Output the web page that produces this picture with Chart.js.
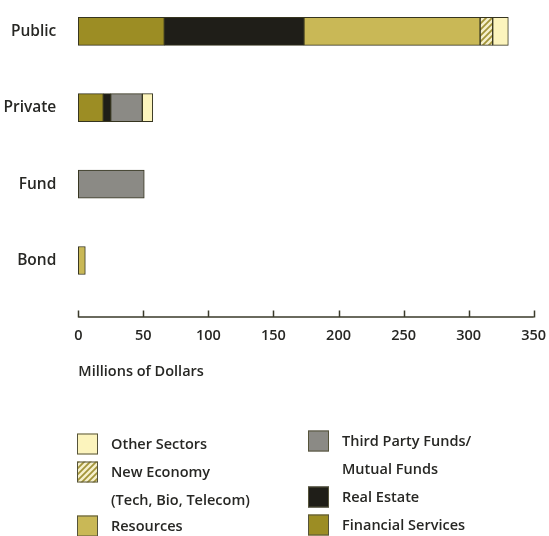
<!DOCTYPE html>
<html>
<head>
<meta charset="utf-8">
<script src="https://cdn.jsdelivr.net/npm/chart.js@4.4.1/dist/chart.umd.min.js"></script>
<style>
    html, body { margin: 0; padding: 0; background: #ffffff; }
    #wrap { width: 549px; height: 536px; }
</style>
</head>
<body>
<div id="wrap"><canvas id="chart" width="549" height="536"></canvas></div>
<script>
const categories = ["Public", "Private", "Fund", "Bond"];
const financialServices = [66.1, 19.2, null, null];
const realEstate = [107.3, 5.7, null, null];
const resources = [135.4, null, null, 5.4];
const thirdPartyFunds = [null, 24.3, 50.7, null];
const newEconomy = [9.7, null, null, null];
const otherSectors = [12.0, 8.0, null, null];
const xTicks = [0, 50, 100, 150, 200, 250, 300, 350];
const axisTitle = "Millions of Dollars";

const textColor = "#272724";
const edgeColor = "#35341f";

function hatchPattern() {
    const c = document.createElement("canvas");
    c.width = 6;
    c.height = 6;
    const g = c.getContext("2d");
    g.fillStyle = "#f6f0cc";
    g.fillRect(0, 0, 6, 6);
    g.strokeStyle = "#a3953a";
    g.lineWidth = 1.8;
    g.beginPath();
    g.moveTo(0, 6); g.lineTo(6, 0);
    g.moveTo(-3, 3); g.lineTo(3, -3);
    g.moveTo(3, 9); g.lineTo(9, 3);
    g.stroke();
    return g.createPattern(c, "repeat");
}

const colors = {
    fin: "#9c8d24",
    re: "#1f1e18",
    res: "#c9b856",
    tpf: "#8b8a85",
    ne: hatchPattern(),
    other: "#fcf4bd",
};

function ds(label, data, color) {
    return {
        label: label,
        data: data,
        backgroundColor: color,
        borderColor: edgeColor,
        borderWidth: 1,
        borderSkipped: false,
        barThickness: 28,
        clip: false,
    };
}

// axis line with ticks pointing up, like the printed chart
const axisLine = {
    id: "axisLine",
    afterDraw(chart) {
        const { ctx } = chart;
        const xs = chart.scales.x;
        const y = 317;
        ctx.save();
        ctx.strokeStyle = "#3a3a2a";
        ctx.lineWidth = 1.5;
        ctx.beginPath();
        ctx.moveTo(xs.getPixelForValue(xTicks[0]), y);
        ctx.lineTo(xs.getPixelForValue(xTicks[xTicks.length - 1]), y);
        xTicks.forEach((v) => {
            const px = Math.round(xs.getPixelForValue(v)) + 0.5;
            ctx.moveTo(px, y + 0.5);
            ctx.lineTo(px, y - 6.5);
        });
        ctx.stroke();
        ctx.restore();
    },
};

const legendBoxes = {
    id: "legendBoxes",
    afterDraw(chart) {
        const { ctx } = chart;
        const bg = (i) => chart.data.datasets[i].backgroundColor;
        const items = [
            { x: 77, y: 444, color: bg(5), lines: ["Other Sectors"] },
            { x: 77, y: 472, color: bg(4), lines: ["New Economy", "(Tech, Bio, Telecom)"] },
            { x: 77, y: 526, color: bg(2), lines: ["Resources"] },
            { x: 308, y: 441, color: bg(3), lines: ["Third Party Funds/", "Mutual Funds"] },
            { x: 308, y: 497, color: bg(1), lines: ["Real Estate"] },
            { x: 308, y: 525, color: bg(0), lines: ["Financial Services"] },
        ];
        ctx.save();
        ctx.font = "600 14.5px 'Open Sans', sans-serif";
        ctx.textBaseline = "middle";
        ctx.textAlign = "left";
        items.forEach((it) => {
            ctx.fillStyle = it.color;
            ctx.fillRect(it.x, it.y - 10.5, 21, 21);
            ctx.strokeStyle = "#55533a";
            ctx.lineWidth = 1;
            ctx.strokeRect(it.x + 0.5, it.y - 10, 20, 20);
            ctx.fillStyle = textColor;
            it.lines.forEach((t, k) => {
                ctx.fillText(t, it.x + 34, it.y + 1 + k * 28);
            });
        });
        ctx.restore();
    },
};

Chart.defaults.font.family = "'Open Sans', sans-serif";
Chart.defaults.color = textColor;

new Chart(document.getElementById("chart"), {
    type: "bar",
    data: {
        labels: categories,
        datasets: [
            ds("Financial Services", financialServices, colors.fin),
            ds("Real Estate", realEstate, colors.re),
            ds("Resources", resources, colors.res),
            ds("Third Party Funds/Mutual Funds", thirdPartyFunds, colors.tpf),
            ds("New Economy (Tech, Bio, Telecom)", newEconomy, colors.ne),
            ds("Other Sectors", otherSectors, colors.other),
        ],
    },
    options: {
        indexAxis: "y",
        responsive: false,
        animation: false,
        layout: { padding: { top: 26, right: 15.3, bottom: 149.5, left: 0 } },
        scales: {
            x: {
                type: "linear",
                stacked: true,
                min: xTicks[0],
                max: xTicks[xTicks.length - 1],
                afterBuildTicks: (s) => { s.ticks = xTicks.map((v) => ({ value: v })); },
                afterFit: (s) => {
                    s.height = 126;
                    s.paddingLeft = 0;
                    s.paddingRight = 0;
                },
                grid: { display: false, drawTicks: false },
                border: { display: false },
                ticks: {
                    padding: 67,
                    maxRotation: 0,
                    font: { size: 14.5, weight: "600" },
                    color: textColor,
                },
                title: {
                    display: true,
                    text: axisTitle,
                    align: "start",
                    padding: { top: 3, bottom: 6 },
                    font: { size: 14.5, weight: "600" },
                    color: textColor,
                },
            },
            y: {
                stacked: true,
                offset: false,
                afterFit: (s) => { s.width = 78.3; },
                grid: { display: false, drawTicks: false },
                border: { display: false },
                ticks: {
                    padding: 22,
                    font: { size: 15.5, weight: "600" },
                    color: textColor,
                },
            },
        },
        plugins: {
            legend: { display: false },
            tooltip: { enabled: false },
        },
    },
    plugins: [axisLine, legendBoxes],
});
</script>
</body>
</html>
